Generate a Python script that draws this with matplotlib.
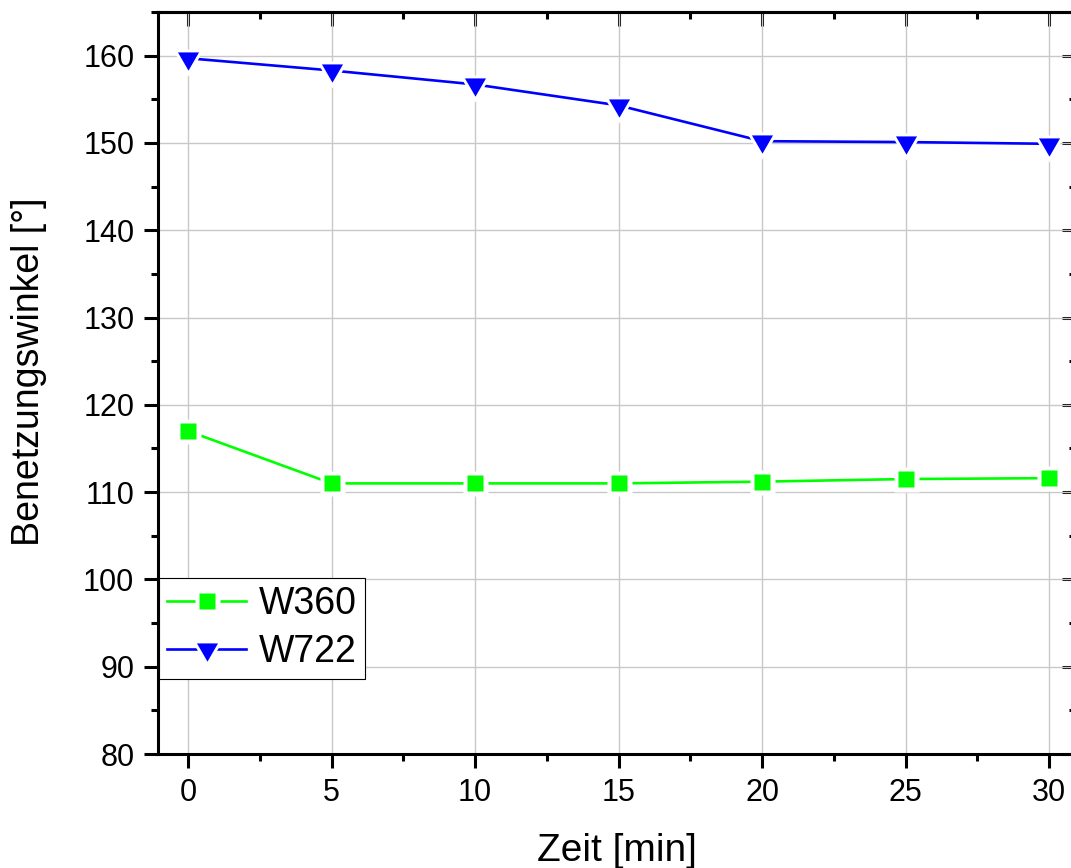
import matplotlib
matplotlib.use('Agg')
import matplotlib.pyplot as plt
from matplotlib.ticker import MultipleLocator
from matplotlib.legend_handler import HandlerTuple

plt.rcParams['font.family'] = ['Liberation Sans', 'DejaVu Sans']

# Dữ liệu
zeit = [0, 5, 10, 15, 20, 25, 30]
w360 = [117.0, 111.0, 111.0, 111.0, 111.2, 111.5, 111.6]
w722 = [159.7, 158.3, 156.7, 154.3, 150.2, 150.1, 149.9]
ten_chuoi = ['W360', 'W722']

# Tam giác ngược (tâm ở trọng tâm)
tam_giac = [(-0.866, 0.5), (0.866, 0.5), (0.0, -1.0), (-0.866, 0.5)]

fig = plt.figure(figsize=(10.71, 8.68), dpi=100)
ax = fig.add_axes([0.1475, 0.1313, 0.8575, 0.8549])

def ve_chuoi(y, mau, marker, ms, ms_trang):
    # đường nối, lớp trắng tạo khoảng hở, rồi marker màu
    duong, = ax.plot(zeit, y, '-', color=mau, lw=1.9, zorder=3)
    trang, = ax.plot(zeit, y, ls='none', marker=marker, ms=ms_trang,
                     mfc='white', mec='none', zorder=4)
    mk, = ax.plot(zeit, y, ls='none', marker=marker, ms=ms,
                  mfc=mau, mec='none', zorder=5)
    return (duong, trang, mk)

h1 = ve_chuoi(w360, '#00ff00', 's', 11.5, 18)
h2 = ve_chuoi(w722, '#0000ff', tam_giac, 17.5, 26)

ax.set_xlim(-1.05, 30.95)
ax.set_ylim(80, 165)
ax.xaxis.set_major_locator(MultipleLocator(5))
ax.xaxis.set_minor_locator(MultipleLocator(2.5))
ax.yaxis.set_major_locator(MultipleLocator(10))
ax.yaxis.set_minor_locator(MultipleLocator(5))

ax.grid(True, which='major', color='#c8c8c8', lw=1.0, zorder=0)
ax.set_axisbelow(True)

for s in ax.spines.values():
    s.set_linewidth(2.2)

ax.tick_params(which='both', width=2.2, labelsize=22, pad=7)
ax.tick_params(which='major', length=10)
ax.tick_params(which='minor', length=5)
ax.tick_params(which='both', bottom=True, left=True, top=False, right=False, direction='out')
# trục phụ phía trên và bên phải: vạch hướng vào trong
ax_top = ax.secondary_xaxis('top')
ax_top.xaxis.set_major_locator(MultipleLocator(5))
ax_top.xaxis.set_minor_locator(MultipleLocator(2.5))
ax_top.tick_params(which='both', direction='in', width=2.2, labeltop=False)
ax_top.tick_params(which='major', length=10)
ax_top.tick_params(which='minor', length=5)
ax_top.spines['top'].set_linewidth(2.2)
ax_right = ax.secondary_yaxis('right')
ax_right.yaxis.set_major_locator(MultipleLocator(10))
ax_right.yaxis.set_minor_locator(MultipleLocator(5))
ax_right.tick_params(which='both', direction='in', width=2.2, labelright=False)
ax_right.tick_params(which='major', length=10)
ax_right.tick_params(which='minor', length=5)
ax_right.spines['right'].set_linewidth(2.2)

ax.set_xlabel('Zeit [min]', fontsize=28)
ax.set_ylabel('Benetzungswinkel [°]', fontsize=27)
ax.xaxis.set_label_coords(0.5, -0.107)
ax.yaxis.set_label_coords(-0.121, 0.515)

leg = ax.legend([h1, h2], ten_chuoi, handler_map={tuple: HandlerTuple(ndivide=1)},
                loc='upper left', bbox_to_anchor=(0.001, 0.237), borderaxespad=0,
                fontsize=27, handlelength=2.1, handletextpad=0.35, borderpad=0.22,
                labelspacing=0.32, fancybox=False, framealpha=1, edgecolor='black')
leg.get_frame().set_linewidth(0.8)
leg.set_zorder(10)

plt.savefig('out.png', dpi=100)
